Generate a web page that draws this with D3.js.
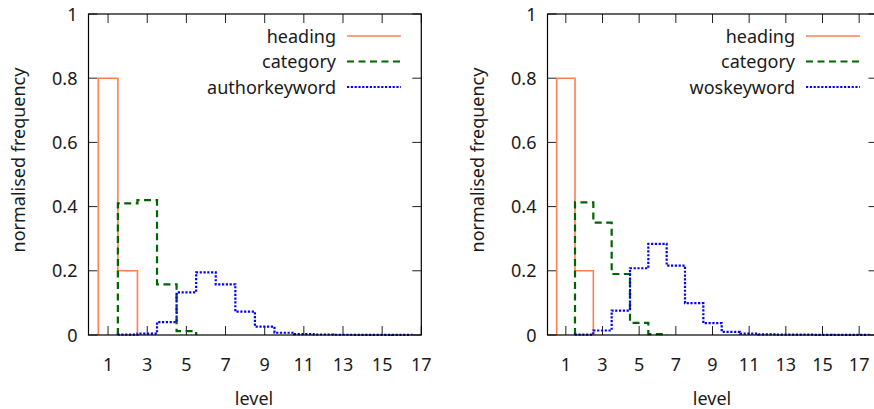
<!DOCTYPE html>
<html>
<head>
<meta charset="utf-8">
<script src="https://cdn.jsdelivr.net/npm/d3@7"></script>
<style>
  body { margin: 0; background: #fff; }
  svg { display: block; font-family: "Noto Sans", sans-serif; }
</style>
</head>
<body>
<div id="chart"></div>
<script>
// values (normalised frequency per level)
const headingLevels = [1, 2];
const headingValues = [0.8, 0.2];

const categoryLevelsA = [2, 3, 4, 5];
const categoryValuesA = [0.41, 0.42, 0.158, 0.012];
const authorLevels = [2, 3, 4, 5, 6, 7, 8, 9, 10, 11, 12, 13, 14, 15, 16];
const authorValues = [0.001, 0.004, 0.04, 0.133, 0.195, 0.158, 0.073, 0.026, 0.007, 0.003, 0.0015, 0.0008, 0.0006, 0.0004, 0.0003];

const categoryLevelsB = [2, 3, 4, 5, 6];
const categoryValuesB = [0.413, 0.35, 0.19, 0.038, 0.003];
const wosLevels = [2, 3, 4, 5, 6, 7, 8, 9, 10, 11, 12, 13, 14, 15, 16, 17];
const wosValues = [0.001, 0.014, 0.076, 0.208, 0.284, 0.216, 0.099, 0.037, 0.01, 0.004, 0.002, 0.0012, 0.001, 0.0006, 0.0005, 0.0003];

const xTicks = [1, 3, 5, 7, 9, 11, 13, 15, 17];
const yTicks = [0, 0.2, 0.4, 0.6, 0.8, 1];

const styles = {
    heading: { color: "#ff7f50", width: 1.6, dash: null },
    category: { color: "#006400", width: 2.2, dash: "7,4.5" },
    keyword: { color: "#0000ff", width: 2.2, dash: "2.2,1.6" }
};

const svg = d3.select("#chart").append("svg")
    .attr("width", 874)
    .attr("height", 409);

//histeps outline: vertical drop to zero at both ends
function stepPoints(levels, values) {
    let pts = [[levels[0] - 0.5, 0]];
    levels.forEach((l, i) => {
        pts.push([l - 0.5, values[i]]);
        pts.push([l + 0.5, values[i]]);
    });
    pts.push([levels[levels.length - 1] + 0.5, 0]);
    return pts;
}

function drawPanel(p) {
    const x = d3.scaleLinear().domain(p.xDomain).range([p.left, p.right]);
    const y = d3.scaleLinear().domain([0, 1]).range([335, 14]);
    const g = svg.append("g");
    const tickLen = 9;

    // inward ticks, mirrored on all four sides
    g.selectAll(".xt").data(xTicks).enter().append("path")
        .attr("d", d => `M${x(d)},335V${335 - tickLen}M${x(d)},14V${14 + tickLen}`)
        .attr("stroke", "#222").attr("stroke-width", 1);
    g.selectAll(".yt").data(yTicks).enter().append("path")
        .attr("d", d => `M${p.left},${y(d)}h${tickLen}M${p.right},${y(d)}h${-tickLen}`)
        .attr("stroke", "#222").attr("stroke-width", 1);

    g.selectAll(".xl").data(xTicks).enter().append("text")
        .attr("x", d => x(d)).attr("y", 371)
        .attr("text-anchor", "middle")
        .style("font-size", "18px").attr("fill", "#1a1a1a")
        .text(d => d);
    g.selectAll(".yl").data(yTicks).enter().append("text")
        .attr("x", p.left - 11).attr("y", d => y(d) + 6.5)
        .attr("text-anchor", "end")
        .style("font-size", "18px").attr("fill", "#1a1a1a")
        .text(d => d);

    g.append("text")
        .attr("x", p.labelX)
        .attr("y", 405)
        .attr("text-anchor", "middle")
        .style("font-size", "18px").attr("fill", "#1a1a1a")
        .text("level");
    g.append("text")
        .attr("transform", `translate(${p.left - 64},160) rotate(-90)`)
        .attr("text-anchor", "middle")
        .style("font-size", "18px").attr("fill", "#1a1a1a")
        .text("normalised frequency");

    const line = d3.line().x(d => x(d[0])).y(d => y(d[1]));
    p.series.forEach(s => {
        const st = styles[s.style];
        g.append("path")
            .attr("d", line(stepPoints(s.levels, s.values)))
            .attr("fill", "none")
            .attr("stroke", st.color)
            .attr("stroke-width", st.width)
            .attr("stroke-dasharray", st.dash);
    });

    // frame
    g.append("rect")
        .attr("x", p.left).attr("y", 14)
        .attr("width", p.right - p.left).attr("height", 321)
        .attr("fill", "none").attr("stroke", "#000").attr("stroke-width", 1.2);

    // key
    p.series.forEach((s, i) => {
        const st = styles[s.style];
        const ky = 36 + i * 25.5;
        g.append("text")
            .attr("x", p.keyRight - 65).attr("y", ky + 6.5)
            .attr("text-anchor", "end")
            .style("font-size", "18px").attr("fill", "#1a1a1a")
            .text(s.name);
        g.append("line")
            .attr("x1", p.keyRight - 54).attr("x2", p.keyRight)
            .attr("y1", ky).attr("y2", ky)
            .attr("stroke", st.color)
            .attr("stroke-width", st.width)
            .attr("stroke-dasharray", st.dash);
    });
}

drawPanel({
    xDomain: [0, 17], left: 88.5, right: 421.3, keyRight: 401, labelX: 254,
    series: [
        { name: "heading", style: "heading", levels: headingLevels, values: headingValues },
        { name: "category", style: "category", levels: categoryLevelsA, values: categoryValuesA },
        { name: "authorkeyword", style: "keyword", levels: authorLevels, values: authorValues }
    ]
});

drawPanel({
    xDomain: [0, 18], left: 547.5, right: 877.5, keyRight: 860, labelX: 712,
    series: [
        { name: "heading", style: "heading", levels: headingLevels, values: headingValues },
        { name: "category", style: "category", levels: categoryLevelsB, values: categoryValuesB },
        { name: "woskeyword", style: "keyword", levels: wosLevels, values: wosValues }
    ]
});
</script>
</body>
</html>
